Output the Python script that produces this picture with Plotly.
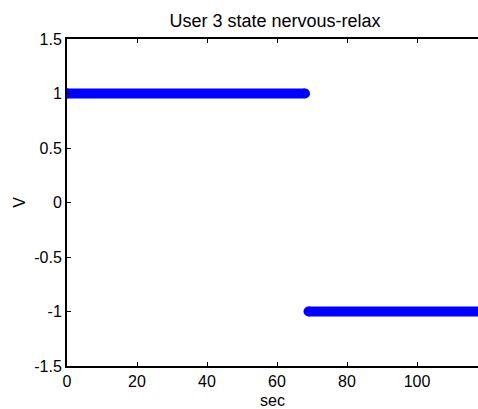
import plotly.graph_objects as go

# Data: state segments (seconds) and state value
state_start_sec = [0, 69]
state_end_sec = [68, 120]
state_value = [1, -1]

x_ticks = [0, 20, 40, 60, 80, 100]
y_ticks = [-1.5, -1, -0.5, 0, 0.5, 1, 1.5]
y_tick_text = ["-1.5", "-1", "-0.5", "0", "0.5", "1", "1.5"]

xs, ys = [], []
for s, e, v in zip(state_start_sec, state_end_sec, state_value):
    xs += [s, e, None]
    ys += [v, v, None]

FONT = "Liberation Sans, Arial, sans-serif"
W, H = 478, 409

fig = go.Figure()
fig.add_trace(go.Scatter(
    x=xs, y=ys, mode="lines+markers",
    line=dict(color="#0000FF", width=10),
    marker=dict(color="#0000FF", size=10),
    showlegend=False, hoverinfo="skip",
))

fig.update_layout(
    width=W, height=H, autosize=False,
    margin=dict(l=67, r=0, t=39, b=43, pad=0),
    paper_bgcolor="white", plot_bgcolor="white",
    font=dict(family=FONT, size=15, color="black"),
    title=dict(text="User 3 state nervous-relax", x=275 / W, xref="container",
               xanchor="center", y=1 - 21 / H, yref="container", yanchor="middle",
               font=dict(family=FONT, size=18, color="black")),
    xaxis=dict(range=[0, 117.43], tickvals=x_ticks, ticks="inside", ticklen=4,
               tickwidth=1, tickcolor="black", showline=True, linecolor="black",
               linewidth=2, mirror="ticks", showgrid=False, zeroline=False,
               tickfont=dict(family=FONT, size=16, color="black"),
               title=dict(text="sec", standoff=7,
                          font=dict(family=FONT, size=16, color="black"))),
    yaxis=dict(range=[-1.5, 1.5], tickvals=y_ticks, ticktext=y_tick_text,
               ticks="inside", ticklen=4, tickwidth=1, tickcolor="black",
               showline=True, linecolor="black", linewidth=2, mirror=False,
               showgrid=False, zeroline=False,
               tickfont=dict(family=FONT, size=16, color="black"),
               title=dict(text="V", standoff=5,
                          font=dict(family=FONT, size=16, color="black"))),
)

fig.write_html(
    "out.html",
    config={"displayModeBar": False},
    post_script="document.body.style.margin='0px';document.body.style.overflow='hidden';",
)
